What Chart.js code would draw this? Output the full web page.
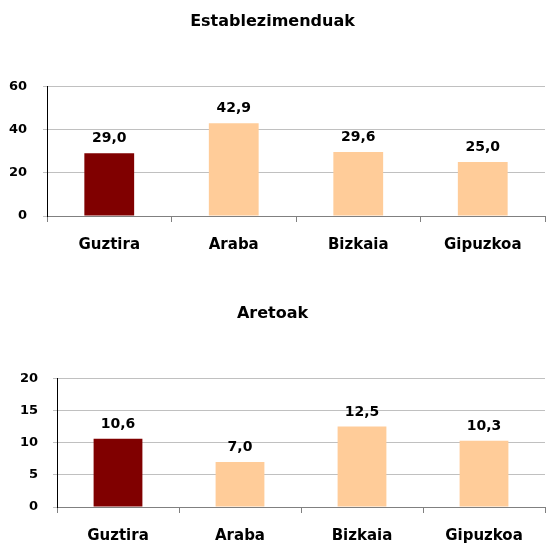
<!DOCTYPE html>
<html>
<head>
<meta charset="utf-8">
<script src="https://cdn.jsdelivr.net/npm/chart.js@4/dist/chart.umd.min.js"></script>
<style>
  html, body { margin: 0; padding: 0; background: #ffffff; width: 547px; height: 545px; overflow: hidden; }
  .wrap { position: absolute; left: 0; width: 547px; }
</style>
</head>
<body>
<div class="wrap" style="top:0px;height:270px;"><canvas id="c1" width="547" height="270"></canvas></div>
<div class="wrap" style="top:288px;height:257px;"><canvas id="c2" width="547" height="257"></canvas></div>
<script>
const categories = ['Guztira', 'Araba', 'Bizkaia', 'Gipuzkoa'];
const establezimenduak = [29.0, 42.9, 29.6, 25.0];
const aretoak = [10.6, 7.0, 12.5, 10.3];
const titles = ['Establezimenduak', 'Aretoak'];
const yTicksTop = { min: 0, max: 60, step: 20 };
const yTicksBottom = { min: 0, max: 20, step: 5 };

const FONT = "'DejaVu Sans', sans-serif";
const barColors = ['#800000', '#FFCC99', '#FFCC99', '#FFCC99'];

const valueLabels = {
  id: 'valueLabels',
  afterDatasetsDraw(chart) {
    const ctx = chart.ctx;
    const meta = chart.getDatasetMeta(0);
    const data = chart.data.datasets[0].data;
    ctx.save();
    ctx.font = "bold 14px " + FONT;
    ctx.fillStyle = '#000000';
    ctx.textAlign = 'center';
    ctx.textBaseline = 'alphabetic';
    meta.data.forEach((bar, i) => {
      ctx.fillText(data[i].toFixed(1).replace('.', ','), bar.x, bar.y - 11);
    });
    ctx.restore();
  }
};

function makeChart(id, title, values, yt, opts) {
  return new Chart(document.getElementById(id), {
    type: 'bar',
    data: {
      labels: categories,
      datasets: [{
        data: values,
        backgroundColor: barColors,
        borderWidth: 0,
        categoryPercentage: 1.0,
        barPercentage: 0.4
      }]
    },
    options: {
      responsive: false,
      animation: false,
      devicePixelRatio: 1,
      layout: { padding: { left: 0, right: 2, top: 0, bottom: 0 } },
      plugins: {
        legend: { display: false },
        tooltip: { enabled: false },
        title: {
          display: true,
          text: title,
          color: '#000000',
          font: { family: FONT, size: 16, weight: 'bold', lineHeight: 1.2 },
          padding: { top: opts.titleTop, bottom: opts.titleBottom }
        }
      },
      scales: {
        x: {
          grid: { display: true, drawOnChartArea: false, drawTicks: true, tickLength: 6, color: '#808080', offset: true },
          border: { display: true, color: '#808080', width: 1 },
          ticks: { color: '#000000', font: { family: FONT, size: 15, weight: 'bold' }, padding: opts.xPad, maxRotation: 0 },
          afterFit(scale) { scale.height = opts.xHeight; }
        },
        y: {
          min: yt.min,
          max: yt.max,
          grid: { color: '#C0C0C0', lineWidth: 1, drawTicks: true, tickLength: 4 },
          border: { display: true, color: '#000000', width: 1 },
          ticks: { stepSize: yt.step, color: '#000000', font: { family: FONT, size: 13, weight: 'bold' }, padding: opts.yPad },
          afterFit(scale) { scale.width = opts.yWidth; }
        }
      }
    },
    plugins: [valueLabels]
  });
}

makeChart('c1', titles[0], establezimenduak, yTicksTop,
  { titleTop: 12, titleBottom: 55, xHeight: 54, xPad: 14, yWidth: 47, yPad: 16 });
makeChart('c2', titles[1], aretoak, yTicksBottom,
  { titleTop: 16, titleBottom: 55, xHeight: 38, xPad: 14, yWidth: 57, yPad: 15 });
</script>
</body>
</html>
